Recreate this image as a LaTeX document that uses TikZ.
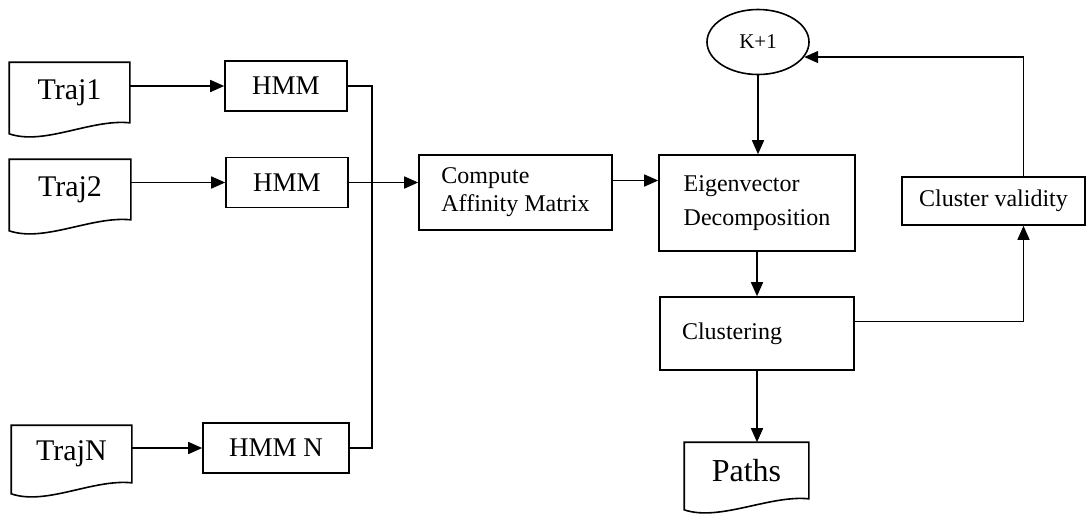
\documentclass[tikz,border=0pt]{standalone}
\usepackage{fontspec}
\setmainfont{Liberation Serif}
\usetikzlibrary{shapes.geometric,arrows.meta,calc}

\begin{document}
\begin{tikzpicture}[x=0.5pt, y=-0.5pt, line width=0.8pt, >={Triangle[length=7pt,width=6pt]}]
    \tikzstyle{trajdoc} = [rectangle, inner sep=0pt, font=\fontsize{15}{18}\selectfont]
    \tikzstyle{hmmbox} = [rectangle, draw, minimum height=25pt, font=\fontsize{13.5}{16}\selectfont]
    \tikzstyle{procbox} = [rectangle, draw, align=left, font=\fontsize{12}{14}\selectfont]
    \tikzstyle{loopbox} = [rectangle, draw, text centered, font=\fontsize{12}{14}\selectfont]

    \useasboundingbox (0,0) rectangle (1086,516);

    % Trajectories
    \node [trajdoc, minimum width=59.5pt, minimum height=29.5pt] (t1) at (69.5,92.5) {Traj1};
    \node [trajdoc, minimum width=60pt, minimum height=29.5pt] (t2) at (70,189.5) {Traj2};
    \node [trajdoc, minimum width=59.5pt, minimum height=28pt] (tn) at (71.5,454) {TrajN};

    % HMMs
    \node [hmmbox, minimum width=61pt] (h1) at (286,86) {HMM};
    \node [hmmbox, minimum width=61pt] (h2) at (287,182.5) {HMM};
    \node [hmmbox, minimum width=73pt] (hn) at (276,448) {HMM N};

    % Spectral clustering steps
    \node [procbox, minimum width=96.5pt, minimum height=37.5pt] (cam) at (515.5,192.5) {Compute\\Affinity Matrix};
    \node [procbox, minimum width=98pt, minimum height=48pt] (eig) at (757,203) {Eigenvector\\[3pt]Decomposition};
    \node [procbox, inner xsep=11pt, text width=75pt, minimum height=36.5pt] (clust) at (757,333.5) {Clustering};
    \node [ellipse, draw, minimum width=51pt, minimum height=32.5pt, font=\fontsize{10.5}{12}\selectfont] (kp) at (758,42) {K+1};
    \node [loopbox, minimum width=91.5pt, minimum height=24pt] (val) at (993.5,201) {Cluster validity};
    \node [trajdoc, minimum width=61.5pt, minimum height=27.5pt, font=\fontsize{16}{19}\selectfont] (paths) at (746.5,470.5) {Paths};

    % Document outlines
    \foreach \d in {t1,t2,tn,paths}
        \draw (\d.north west) -- (\d.north east) -- (\d.south east)
            .. controls +(-39,-4) and +(35,12) .. ($(\d.south west)+(0,11)$) -- cycle;

    % Arrows
    \coordinate (bus) at (372,0);
    \draw [->] (t1.east |- h1.west) -- (h1.west);
    \draw [->] (t2.east |- h2.west) -- (h2.west);
    \draw [->] (tn.east |- hn.west) -- (hn.west);
    \draw (h1.east) -- (bus |- h1.east) -- (bus |- hn.east) -- (hn.east);
    \draw [->] (h2.east) -- (h2.east -| cam.west);
    \draw [->] ([yshift=6pt]cam.east) -- ([yshift=6pt]cam.east -| eig.west);
    \draw [->] (kp.south) -- (kp.south |- eig.north);
    \draw [->] (eig.south) -- (clust.north);
    \draw [->] (clust.south) -- (clust.south |- paths.north);
    \draw [->] ([yshift=6pt]clust.east) -| ([xshift=15pt]val.south);
    \draw [->] ([xshift=15pt]val.north) |- (kp.-18);
\end{tikzpicture}
\end{document}
